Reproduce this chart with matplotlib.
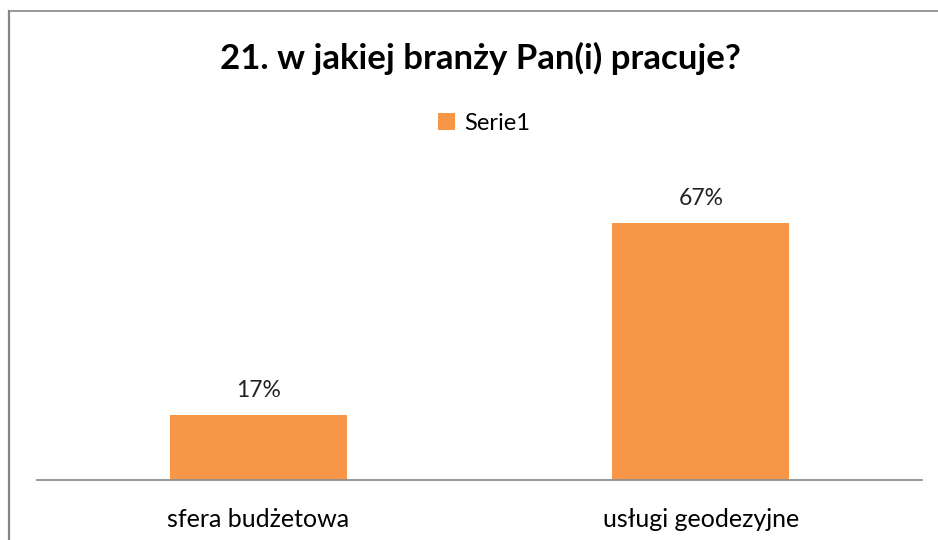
import matplotlib.pyplot as plt
from matplotlib.lines import Line2D

# dane
kategorie = ["sfera budżetowa", "usługi geodezyjne"]
wartosci = [0.17, 0.67]
etykiety = ["17%", "67%"]
seria = "Serie1"

plt.rcParams["font.family"] = ["Lato", "DejaVu Sans"]

W, H = 938, 540
fig = plt.figure(figsize=(W / 100, H / 100), dpi=100)
ax = fig.add_axes([37 / W, (H - 480) / H, (922 - 37) / W, (480 - 173) / H])

x = range(len(kategorie))
bars = ax.bar(x, wartosci, width=0.4, color="#F79646", label=seria, zorder=2)
for b, lab in zip(bars, etykiety):
    ax.text(b.get_x() + b.get_width() / 2, b.get_height() + 0.035, lab,
            ha="center", va="bottom", fontsize=16.5, color="#222222")

ax.set_xlim(-0.5, 1.5)
ax.set_ylim(0, 0.8)
ax.set_xticks(list(x))
ax.set_xticklabels(kategorie, fontsize=18)
ax.tick_params(axis="x", length=0, pad=20)
ax.set_yticks([])
for s in ["top", "right", "left"]:
    ax.spines[s].set_visible(False)
ax.spines["bottom"].set_color("#909090")
ax.spines["bottom"].set_linewidth(1.3)

# tytuł i legenda
fig.text(480 / W, 1 - 58 / H, "21. w jakiej branży Pan(i) pracuje?",
         ha="center", va="center", fontsize=25, fontweight="bold")
fig.legend(handles=[bars], labels=[seria], loc="center",
           bbox_to_anchor=(484 / W, 1 - 123 / H), frameon=False,
           fontsize=17, handlelength=0.7, handleheight=0.7, handletextpad=0.4)

# ramka wykresu (góra i lewa strona)
fig.add_artist(Line2D([8.5 / W, 1], [1 - 11 / H, 1 - 11 / H], color="#868686", lw=1.2,
                      transform=fig.transFigure))
fig.add_artist(Line2D([8.5 / W, 8.5 / W], [0, 1 - 11 / H], color="#868686", lw=1.6,
                      transform=fig.transFigure))

fig.savefig("out.png", dpi=100)
